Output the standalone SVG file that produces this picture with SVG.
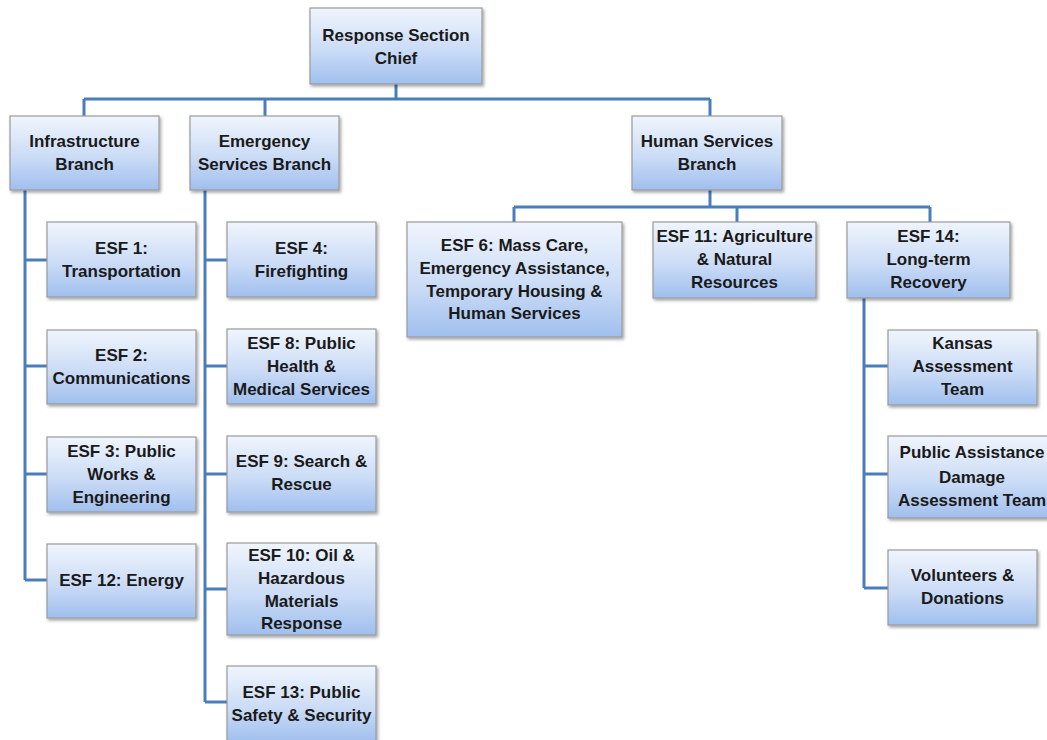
<svg xmlns="http://www.w3.org/2000/svg" width="1047" height="740" viewBox="0 0 1047 740">
<style>
.box{fill:url(#g);stroke:#9a9a9a;stroke-width:1.2;filter:url(#sh)}
.t{font-family:"Liberation Sans",Arial,sans-serif;font-weight:bold;font-size:17px;fill:#1a1a1a;text-anchor:middle}
.c{fill:none;stroke:#4a7ebb;stroke-width:3}
</style>
<defs>
<linearGradient id="g" x1="0" y1="0" x2="0" y2="1">
<stop offset="0" stop-color="#f0f5fd"/>
<stop offset="0.55" stop-color="#cbdcf6"/>
<stop offset="1" stop-color="#a0bfee"/>
</linearGradient>
<filter id="sh" x="-10%" y="-10%" width="125%" height="130%">
<feDropShadow dx="1.5" dy="2" stdDeviation="1.5" flood-color="#000" flood-opacity="0.35"/>
</filter>
</defs>
<rect width="1047" height="740" fill="#fff"/>
<g id="connectors">
<path class="c" d="M396 84V99M84 99H710M84 99V116M265 99V116M710 99V116"/>
<path class="c" d="M25 190V580M25 260H47M25 366H47M25 474H47M25 580H47"/>
<path class="c" d="M205 190V702M205 260H227M205 366H227M205 474H227M205 589H227M205 702H227"/>
<path class="c" d="M710 190V207M514 207H930M514 207V222M737 207V222M930 207V222"/>
<path class="c" d="M864 298V588M864 366H888M864 474H888M864 588H888"/>
</g>
<g id="chief"><rect class="box" x="310" y="8" width="172" height="76"/><text class="t" x="396" y="41">Response Section</text><text class="t" x="396" y="64">Chief</text></g>
<g id="infra"><rect class="box" x="10" y="116" width="149" height="74"/><text class="t" x="84.5" y="147">Infrastructure</text><text class="t" x="84.5" y="170">Branch</text></g>
<g id="emerg"><rect class="box" x="190" y="116" width="149" height="74"/><text class="t" x="264.5" y="147">Emergency</text><text class="t" x="264.5" y="170">Services Branch</text></g>
<g id="human"><rect class="box" x="632" y="116" width="150" height="74"/><text class="t" x="707" y="147">Human Services</text><text class="t" x="707" y="170">Branch</text></g>
<g id="esf1"><rect class="box" x="47" y="222" width="149" height="75"/><text class="t" x="121.5" y="254">ESF 1:</text><text class="t" x="121.5" y="277">Transportation</text></g>
<g id="esf2"><rect class="box" x="47" y="330" width="149" height="74"/><text class="t" x="121.5" y="361">ESF 2:</text><text class="t" x="121.5" y="384">Communications</text></g>
<g id="esf3"><rect class="box" x="47" y="437" width="149" height="75"/><text class="t" x="121.5" y="457">ESF 3: Public</text><text class="t" x="121.5" y="480">Works &amp;</text><text class="t" x="121.5" y="503">Engineering</text></g>
<g id="esf12"><rect class="box" x="47" y="544" width="149" height="74"/><text class="t" x="121.5" y="586">ESF 12: Energy</text></g>
<g id="esf4"><rect class="box" x="227" y="222" width="149" height="75"/><text class="t" x="301.5" y="254">ESF 4:</text><text class="t" x="301.5" y="277">Firefighting</text></g>
<g id="esf8"><rect class="box" x="227" y="329" width="149" height="75"/><text class="t" x="301.5" y="349">ESF 8: Public</text><text class="t" x="301.5" y="372">Health &amp;</text><text class="t" x="301.5" y="395">Medical Services</text></g>
<g id="esf9"><rect class="box" x="227" y="436" width="149" height="76"/><text class="t" x="301.5" y="467">ESF 9: Search &amp;</text><text class="t" x="301.5" y="490">Rescue</text></g>
<g id="esf10"><rect class="box" x="227" y="543" width="149" height="92"/><text class="t" x="301.5" y="561">ESF 10: Oil &amp;</text><text class="t" x="301.5" y="584">Hazardous</text><text class="t" x="301.5" y="607">Materials</text><text class="t" x="301.5" y="629">Response</text></g>
<g id="esf13"><rect class="box" x="227" y="666" width="149" height="76"/><text class="t" x="301.5" y="698">ESF 13: Public</text><text class="t" x="301.5" y="721">Safety &amp; Security</text></g>
<g id="esf6"><rect class="box" x="407" y="222" width="215" height="115"/><text class="t" x="514.5" y="251">ESF 6: Mass Care,</text><text class="t" x="514.5" y="274">Emergency Assistance,</text><text class="t" x="514.5" y="297">Temporary Housing &amp;</text><text class="t" x="514.5" y="319">Human Services</text></g>
<g id="esf11"><rect class="box" x="653" y="222" width="163" height="76"/><text class="t" x="734.5" y="242">ESF 11: Agriculture</text><text class="t" x="734.5" y="265">&amp; Natural</text><text class="t" x="734.5" y="288">Resources</text></g>
<g id="esf14"><rect class="box" x="847" y="222" width="163" height="76"/><text class="t" x="928.5" y="242">ESF 14:</text><text class="t" x="928.5" y="265">Long-term</text><text class="t" x="928.5" y="288">Recovery</text></g>
<g id="kansas"><rect class="box" x="888" y="330" width="149" height="75"/><text class="t" x="962.5" y="349">Kansas</text><text class="t" x="962.5" y="372">Assessment</text><text class="t" x="962.5" y="395">Team</text></g>
<g id="pada"><rect class="box" x="888" y="436" width="165" height="82"/><text class="t" x="972" y="458">Public Assistance</text><text class="t" x="972" y="483">Damage</text><text class="t" x="972" y="506">Assessment Team</text></g>
<g id="volunteers"><rect class="box" x="888" y="550" width="149" height="75"/><text class="t" x="962.5" y="581">Volunteers &amp;</text><text class="t" x="962.5" y="604">Donations</text></g>
</svg>
